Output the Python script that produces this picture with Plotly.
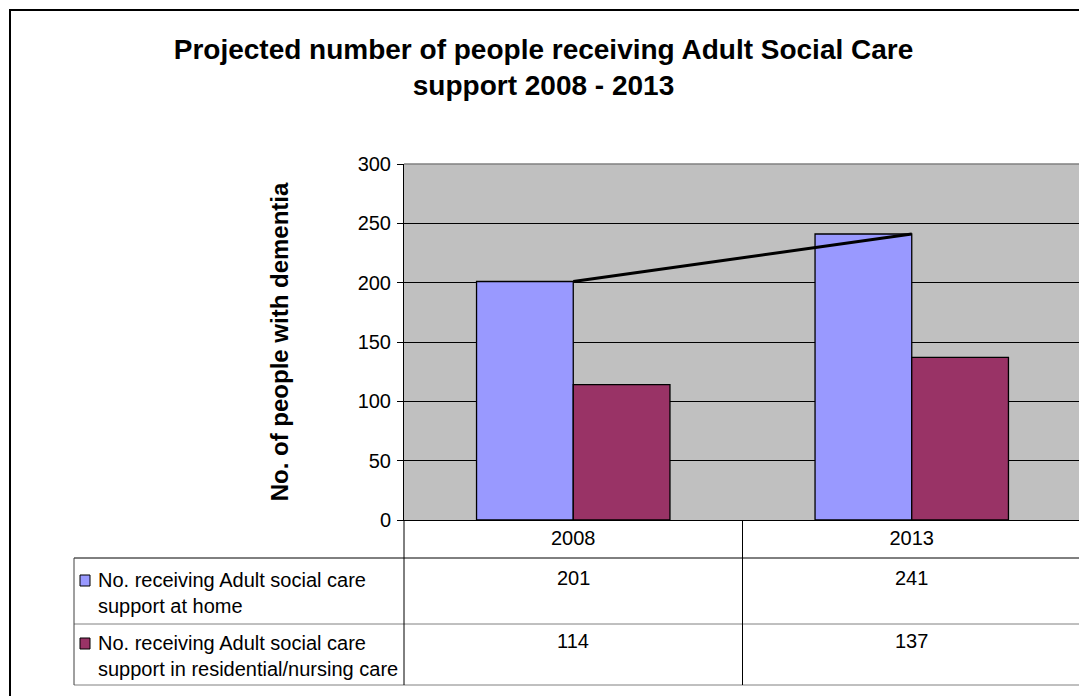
import plotly.graph_objects as go

years = ["2008", "2013"]
home = [201, 241]
residential = [114, 137]
series_names = ["No. receiving Adult social care<br>support at home",
                "No. receiving Adult social care<br>support in residential/nursing care"]
y_ticks = [0, 50, 100, 150, 200, 250, 300]

# page body has an 8px margin, so the figure is drawn 8px smaller and all
# coordinates below are given in screen pixels
OFF = 8
W, H = 1087 - OFF, 696 - OFF
L, R, T, B = 404, 1081, 164, 520  # screen pixels of plot area
FONT = "Liberation Sans, Arial, sans-serif"


def px(x):
    return (x - L) / (R - L)


def py(y):
    return (B - y) / (B - T)


fig = go.Figure()
fig.add_trace(go.Bar(x=years, y=home, name="home", marker=dict(color="#9999FF", line=dict(color="black", width=1.3))))
fig.add_trace(go.Bar(x=years, y=residential, name="res", marker=dict(color="#993366", line=dict(color="black", width=1.3))))
fig.add_trace(go.Scatter(x=years, y=home, mode="lines", line=dict(color="black", width=3), showlegend=False))

shapes = []


def line(x0, y0, x1, y1, color="black", width=1):
    shapes.append(dict(type="line", xref="paper", yref="paper", x0=px(x0), y0=py(y0), x1=px(x1), y1=py(y1),
                       line=dict(color=color, width=width), layer="above"))


# outer frame
shapes.append(dict(type="rect", xref="paper", yref="paper", x0=px(10), y0=py(10), x1=px(1085), y1=py(705),
                   line=dict(color="black", width=2)))
# plot border grey top/right
line(L, T, R, T, "#808080", 1.5)
line(R, T, R, B, "#808080", 1.5)
# table
line(74, 558, R, 558, "black", 1)
line(74, 624, R, 624, "#808080", 1)
line(74, 685, R, 685, "#808080", 1)
line(74, 558, 74, 685, "#404040", 1)
line(L, B, L, 685, "black", 1)
line((L + R) / 2, B, (L + R) / 2, 685, "black", 1)
line(R, B, R, 685, "#808080", 1)

annotations = []
row_tops = [565, 628]
colors = ["#9999FF", "#993366"]
key_tops = [575, 638]
for i, (name, vals) in enumerate(zip(series_names, [home, residential])):
    shapes.append(dict(type="rect", xref="paper", yref="paper", x0=px(80), x1=px(90),
                       y0=py(key_tops[i]), y1=py(key_tops[i] + 11), fillcolor=colors[i],
                       line=dict(color="black", width=1)))
    annotations.append(dict(xref="paper", yref="paper", x=px(96), y=py(row_tops[i] + 2), xanchor="left", yanchor="top",
                            text=name, showarrow=False, align="left", font=dict(size=20, family=FONT, color="black")))
    for j, v in enumerate(vals):
        cx = L + (R - L) * (j + 0.5) / 2
        annotations.append(dict(xref="paper", yref="paper", x=px(cx), y=py(row_tops[i]), xanchor="center", yanchor="top",
                                text=str(v), showarrow=False, font=dict(size=20, family=FONT, color="black")))

fig.update_layout(
    width=W, height=H,
    margin=dict(l=L - OFF, r=W - (R - OFF), t=T - OFF, b=H - (B - OFF)),
    paper_bgcolor="white", plot_bgcolor="#C0C0C0",
    barmode="group", bargap=1.5 / 3.5, bargroupgap=0,
    showlegend=False,
    title=dict(text="<b>Projected number of people receiving Adult Social Care<br>support 2008 - 2013</b>",
               x=px(543.5), xref="paper", xanchor="center", y=1 - 51 / H, yanchor="top",
               font=dict(size=28, family=FONT, color="black")),
    font=dict(family=FONT, color="black"),
    shapes=shapes, annotations=annotations,
)
fig.update_xaxes(type="category", showgrid=False, ticks="", ticklen=0,
                 tickfont=dict(size=20), showline=True, linecolor="black", linewidth=1, zeroline=False)
fig.update_yaxes(range=[0, 300], tickvals=y_ticks, showgrid=True, gridcolor="black", gridwidth=1,
                 ticks="outside", ticklen=6, tickcolor="black", showline=True, linecolor="black", linewidth=1,
                 tickfont=dict(size=20), zeroline=False, ticklabelstandoff=2,
                 title=dict(text="<b>No. of people with dementia</b>", font=dict(size=24, family=FONT), standoff=62))

fig.write_html("out.html")
